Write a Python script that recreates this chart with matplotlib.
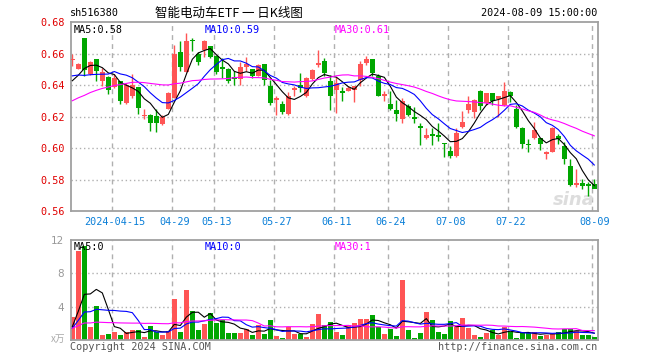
import matplotlib
matplotlib.use('Agg')
import matplotlib.pyplot as plt
import numpy as np
import pandas as pd

# 交易日
holidays = ['2024-04-04', '2024-04-05', '2024-05-01', '2024-05-02', '2024-05-03', '2024-06-10']
dates = [d for d in pd.bdate_range('2024-04-02', '2024-08-09')
         if d.strftime('%Y-%m-%d') not in holidays]
tick_dates = ['2024-04-15', '2024-04-29', '2024-05-13', '2024-05-27', '2024-06-11',
              '2024-06-24', '2024-07-08', '2024-07-22', '2024-08-09']

# K线 (开 高 低 收)
open_ = [0.6560, 0.6504, 0.6698, 0.6469, 0.6563, 0.6427, 0.6448, 0.6385, 0.6423, 0.6285,
         0.6330, 0.6385, 0.6202, 0.6212, 0.6206, 0.6150, 0.6250, 0.6320, 0.6608, 0.6485,
         0.6685, 0.6598, 0.6625, 0.6646, 0.6583, 0.6517, 0.6500, 0.6448, 0.6437, 0.6515,
         0.6500, 0.6458, 0.6531, 0.6396, 0.6306, 0.6277, 0.6215, 0.6369, 0.6400, 0.6327,
         0.6437, 0.6529, 0.6552, 0.6427, 0.6369, 0.6365, 0.6365, 0.6369, 0.6431, 0.6542,
         0.6567, 0.6458, 0.6327, 0.6277, 0.6244, 0.6183, 0.6265, 0.6198, 0.6137, 0.6063,
         0.6087, 0.6083, 0.6031, 0.5983, 0.5948, 0.6131, 0.6244, 0.6229, 0.6365, 0.6285,
         0.6348, 0.6313, 0.6271, 0.6354, 0.6250, 0.6129, 0.6027, 0.6063, 0.6063, 0.5963,
         0.5975, 0.6079, 0.6010, 0.5885, 0.5762, 0.5775, 0.5769, 0.5773]
high = [0.6595, 0.6540, 0.6700, 0.6552, 0.6565, 0.6510, 0.6455, 0.6469, 0.6425, 0.6410,
        0.6469, 0.6390, 0.6250, 0.6215, 0.6250, 0.6208, 0.6354, 0.6656, 0.6680, 0.6730,
        0.6698, 0.6610, 0.6688, 0.6650, 0.6590, 0.6569, 0.6505, 0.6490, 0.6546, 0.6577,
        0.6502, 0.6535, 0.6535, 0.6431, 0.6333, 0.6300, 0.6354, 0.6396, 0.6479, 0.6448,
        0.6504, 0.6625, 0.6573, 0.6462, 0.6448, 0.6385, 0.6396, 0.6396, 0.6552, 0.6583,
        0.6567, 0.6469, 0.6365, 0.6365, 0.6302, 0.6317, 0.6281, 0.6260, 0.6156, 0.6125,
        0.6125, 0.6156, 0.6031, 0.6010, 0.6125, 0.6235, 0.6333, 0.6313, 0.6367, 0.6348,
        0.6350, 0.6333, 0.6417, 0.6365, 0.6271, 0.6131, 0.6056, 0.6167, 0.6065, 0.5979,
        0.6135, 0.6088, 0.6038, 0.5927, 0.5865, 0.5806, 0.5781, 0.5806]
low = [0.6520, 0.6500, 0.6458, 0.6465, 0.6427, 0.6396, 0.6344, 0.6380, 0.6281, 0.6280,
       0.6315, 0.6215, 0.6187, 0.6108, 0.6104, 0.6144, 0.6245, 0.6319, 0.6490, 0.6480,
       0.6615, 0.6530, 0.6577, 0.6570, 0.6470, 0.6444, 0.6410, 0.6400, 0.6400, 0.6490,
       0.6444, 0.6455, 0.6402, 0.6271, 0.6208, 0.6219, 0.6208, 0.6333, 0.6358, 0.6323,
       0.6429, 0.6512, 0.6458, 0.6244, 0.6223, 0.6298, 0.6360, 0.6292, 0.6396, 0.6525,
       0.6458, 0.6327, 0.6296, 0.6244, 0.6171, 0.6160, 0.6202, 0.6160, 0.6021, 0.6056,
       0.6021, 0.6042, 0.5944, 0.5938, 0.5944, 0.6125, 0.6223, 0.6192, 0.6240, 0.6271,
       0.6271, 0.6198, 0.6265, 0.6292, 0.6125, 0.6000, 0.5973, 0.6056, 0.5990, 0.5931,
       0.5973, 0.6025, 0.5896, 0.5760, 0.5750, 0.5740, 0.5694, 0.5750]
close = [0.6565, 0.6535, 0.6494, 0.6546, 0.6490, 0.6485, 0.6369, 0.6442, 0.6298, 0.6400,
         0.6400, 0.6256, 0.6208, 0.6156, 0.6156, 0.6198, 0.6348, 0.6598, 0.6517, 0.6677,
         0.6677, 0.6548, 0.6677, 0.6577, 0.6485, 0.6504, 0.6427, 0.6440, 0.6515, 0.6535,
         0.6458, 0.6527, 0.6431, 0.6285, 0.6317, 0.6227, 0.6333, 0.6380, 0.6379, 0.6444,
         0.6494, 0.6537, 0.6479, 0.6327, 0.6413, 0.6348, 0.6379, 0.6396, 0.6535, 0.6562,
         0.6475, 0.6333, 0.6340, 0.6250, 0.6219, 0.6296, 0.6208, 0.6185, 0.6129, 0.6083,
         0.6079, 0.6067, 0.6023, 0.5948, 0.6094, 0.6167, 0.6281, 0.6302, 0.6265, 0.6348,
         0.6296, 0.6327, 0.6365, 0.6327, 0.6131, 0.6027, 0.6019, 0.6115, 0.6027, 0.5975,
         0.6129, 0.6056, 0.5927, 0.5767, 0.5779, 0.5758, 0.5760, 0.5742]
# 成交量 (万)
volume = [2.76, 10.64, 11.30, 1.64, 4.12, 0.64, 0.76, 1.04, 0.64, 1.04,
          1.24, 1.24, 0.44, 1.72, 1.04, 0.64, 1.16, 4.96, 1.04, 6.04,
          3.52, 1.24, 1.96, 3.28, 2.12, 2.44, 0.92, 0.92, 0.88, 1.36,
          0.64, 1.84, 0.76, 2.44, 0.52, 0.32, 1.56, 0.80, 0.76, 0.44,
          1.96, 3.16, 1.84, 2.24, 1.04, 0.64, 1.84, 2.12, 2.56, 2.56,
          3.04, 1.56, 0.76, 1.40, 0.52, 7.16, 1.24, 0.28, 0.88, 3.44,
          2.44, 1.00, 0.76, 2.32, 1.64, 2.72, 1.52, 0.64, 0.40, 0.88,
          1.24, 0.64, 1.64, 1.04, 0.28, 0.92, 0.84, 1.04, 0.52, 0.64,
          0.76, 1.00, 1.40, 1.40, 1.16, 0.64, 0.64, 0.40]
# 图前的交易日 (只用于均线)
earlier_close = [0.598, 0.603, 0.600, 0.607, 0.612, 0.610, 0.615, 0.613, 0.618, 0.619,
                 0.624, 0.628, 0.631, 0.629, 0.634, 0.637, 0.636, 0.641, 0.643, 0.644,
                 0.648, 0.652, 0.650, 0.647, 0.6475, 0.636, 0.628, 0.645, 0.648]
earlier_vol = [1.3, 1.6, 1.5, 1.2, 1.4, 1.7, 1.3, 1.5, 1.4, 1.6,
               1.2, 1.5, 1.4, 1.6, 1.3, 1.5, 1.4, 1.5, 1.3, 1.5,
               1.2, 1.3, 1.3, 1.2, 1.25, 1.4, 1.2, 1.4, 1.4]

RED = '#ff5555'
GREEN = '#00a600'
GRID = '#b0b0b0'
FRAME = '#a0a0a0'
MONO = 'DejaVu Sans Mono'
CJK = ['Noto Sans CJK SC', 'DejaVu Sans']

n = len(close)
x = np.arange(n)
o = np.array(open_)
c = np.array(close)
up = c >= o
colors = np.where(up, RED, GREEN)

def ma(prev, vals, w):
    s = pd.Series(list(prev) + list(vals)).rolling(w, min_periods=1).mean()
    return s.iloc[len(prev):].to_numpy()

ma_cols = {5: 'black', 10: '#0000ff', 30: '#ff00ff'}

fig = plt.figure(figsize=(6.6, 3.6), dpi=100)
W, H = 660, 360

def fx(px):
    return px / W

def fy(py):
    return 1 - py / H

ax = fig.add_axes([fx(70.7), fy(211), fx(597.7) - fx(70.7), fy(22) - fy(211)])
axv = fig.add_axes([fx(70.7), fy(340.3), fx(597.7) - fx(70.7), fy(240) - fy(340.3)])

tick_idx = [[d.strftime('%Y-%m-%d') for d in dates].index(t) for t in tick_dates]
tick_lab = [tick_dates[0]] + [t[5:] for t in tick_dates[1:]]

for a in (ax, axv):
    a.set_xlim(-0.27, n - 1 + 0.57)
    for s in a.spines.values():
        s.set_color(FRAME)
        s.set_linewidth(1.3)
    for t in tick_idx:
        a.axvline(t - 0.33, color=GRID, lw=1, ls=(0, (3.5, 3)), zorder=0)
    a.tick_params(length=0)

# 价格
ax.set_ylim(0.56, 0.68)
for lv in [0.58, 0.60, 0.62, 0.64, 0.66]:
    ax.axhline(lv, color=GRID, lw=1, ls=(0, (1, 2)), zorder=0)
ax.vlines(x, low, high, colors=colors, lw=1, zorder=2)
body_lo = np.minimum(o, c)
body_h = np.maximum(np.abs(c - o), 0.0006)
ax.bar(x, body_h, bottom=body_lo, width=0.75, color=colors, zorder=3)
for w, col in ma_cols.items():
    ax.plot(x, ma(earlier_close, close, w), color=col, lw=0.8, zorder=4)
yt = [0.56, 0.58, 0.60, 0.62, 0.64, 0.66, 0.68]
ax.set_yticks(yt)
ax.set_yticklabels([f'{v:.2f}' for v in yt], color='#e00000', family=MONO, fontsize=7.3)
ax.tick_params(axis='y', pad=4)
ax.set_xticks(tick_idx)
ax.set_xticklabels(tick_lab, color='#0a7fd8', family=MONO, fontsize=7.3)
ax.tick_params(axis='x', pad=4)

ma_last = {w: ma(earlier_close, close, w)[-1] for w in ma_cols}
ax.text(0.006, 0.985, f'MA5:{ma_last[5]:.2f}', transform=ax.transAxes, va='top',
        family=MONO, fontsize=7.3, color='black')
ax.text(0.255, 0.985, f'MA10:{ma_last[10]:.2f}', transform=ax.transAxes, va='top',
        family=MONO, fontsize=7.3, color='#0000ff')
ax.text(0.5015, 0.985, f'MA30:{ma_last[30]:.2f}', transform=ax.transAxes, va='top',
        family=MONO, fontsize=7.3, color='#ff00ff')
ax.text(0.955, 0.06, 'sina', transform=ax.transAxes, ha='center', va='center',
        fontsize=13, style='italic', weight='bold', color='#dddddd', zorder=1)

# 成交量
axv.set_ylim(0, 12)
for lv in [4, 8]:
    axv.axhline(lv, color=GRID, lw=1, ls=(0, (1, 2)), zorder=0)
axv.bar(x, volume, width=0.8, color=colors, zorder=2)
for w, col in ma_cols.items():
    axv.plot(x, ma(earlier_vol, volume, w), color=col, lw=0.8, zorder=4)
axv.set_yticks([4, 8, 12])
axv.set_yticklabels(['4', '8', '12'], color='#999999', fontsize=7.5)
axv.tick_params(axis='y', pad=5)
axv.set_xticks([])
axv.text(0.006, 0.985, 'MA5:0', transform=axv.transAxes, va='top',
         family=MONO, fontsize=7.3, color='black')
axv.text(0.255, 0.985, 'MA10:0', transform=axv.transAxes, va='top',
         family=MONO, fontsize=7.3, color='#0000ff')
axv.text(0.5015, 0.985, 'MA30:1', transform=axv.transAxes, va='top',
         family=MONO, fontsize=7.3, color='#ff00ff')

# 标题等
fig.text(fx(70), fy(13), 'sh516380', family=MONO, fontsize=7.3, va='center', color='black')
fig.text(fx(229), fy(13), '智能电动车ETF 一 日K线图', family=CJK, fontsize=9,
         ha='center', va='center', color='black')
fig.text(fx(597), fy(13), '2024-08-09 15:00:00', family=MONO, fontsize=7.3,
         ha='right', va='center', color='black')
fig.text(fx(65), fy(339), 'x万', family=CJK, fontsize=7, ha='right', va='center', color='#aaaaaa')
fig.text(fx(70), fy(347), 'Copyright 2024 SINA.COM', family=MONO, fontsize=7.3,
         va='center', color='#555555')
fig.text(fx(597), fy(347), 'http://finance.sina.com.cn', family=MONO, fontsize=7.3,
         ha='right', va='center', color='#555555')

fig.savefig('out.png', dpi=100)
